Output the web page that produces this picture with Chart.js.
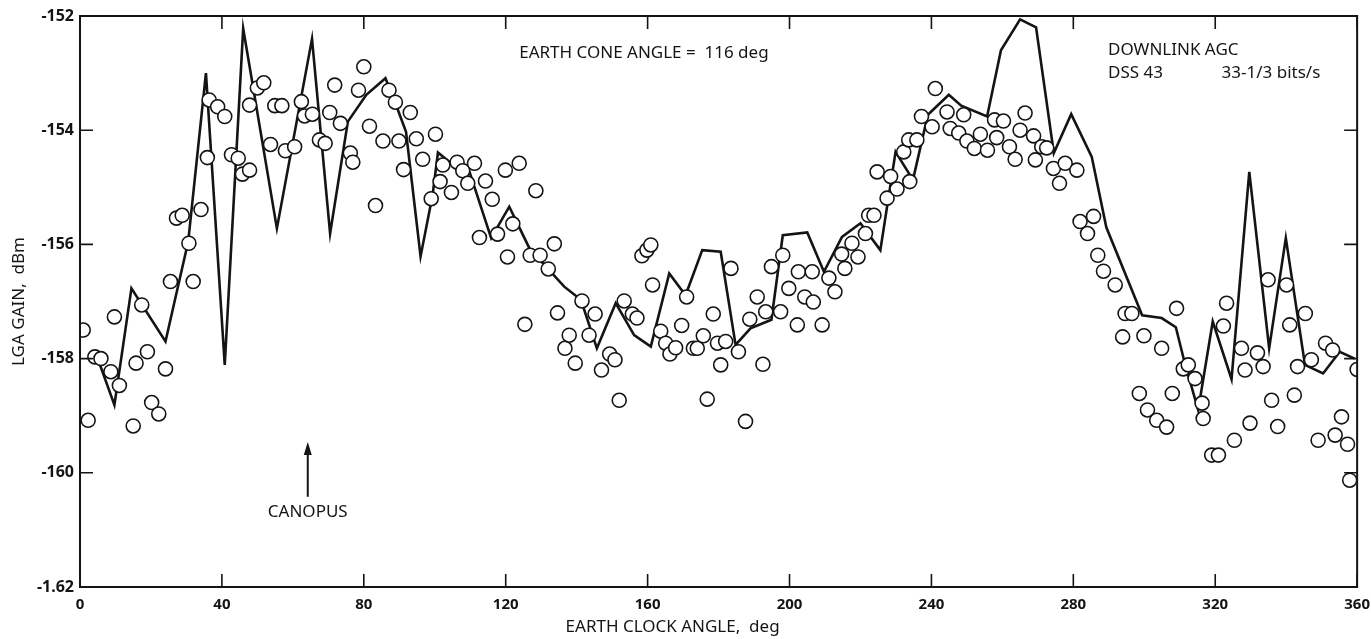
<!DOCTYPE html>
<html>
<head>
<meta charset="utf-8">
<script src="https://cdn.jsdelivr.net/npm/chart.js@4"></script>
<style>
  html, body { margin: 0; padding: 0; background: #ffffff; }
  #wrap { width: 1371px; height: 639px; position: relative; }
</style>
</head>
<body>
<div id="wrap"><canvas id="agc" width="1371" height="639"></canvas></div>
<script>
// Measured downlink AGC (circles): earth clock angle (deg) and LGA gain (dBm)
const agcAngle = [
  0.9, 2.3, 4.2, 5.9, 8.7, 9.7, 11.1, 15.0, 15.8, 17.4, 19.0, 20.2, 22.2, 24.1,
  25.5, 27.2, 28.8, 30.7, 31.9, 34.1, 35.9, 36.4, 38.8, 40.8, 42.7, 44.6, 45.8,
  47.8, 47.8, 50.0, 51.8, 53.7, 54.9, 56.9, 57.9, 60.5, 62.4, 63.3, 65.5, 67.5,
  69.1, 70.4, 71.8, 73.4, 76.2, 76.9, 78.5, 80.0, 81.6, 83.3, 85.4, 87.1, 88.9,
  89.9, 91.2, 93.1, 94.8, 96.6, 99.0, 100.2, 101.5, 102.3, 104.7, 106.3, 107.9,
  109.3, 111.2, 112.6, 114.3, 116.2, 117.7, 119.9, 120.5, 122.0, 123.8, 125.4,
  126.9, 128.5, 129.7, 132.0, 133.7, 134.6, 136.7, 137.9, 139.6, 141.5, 143.5,
  145.2, 147.0, 149.3, 150.8, 152.0, 153.4, 155.7, 157.0, 158.4, 159.8, 160.9,
  161.4, 163.7, 165.1, 166.3, 167.9, 169.6, 171.0, 172.9, 174.0, 175.7, 176.8,
  178.5, 179.7, 180.6, 182.0, 183.5, 185.6, 187.6, 188.8, 190.9, 192.5, 193.3,
  194.9, 197.5, 198.1, 199.8, 202.2, 202.5, 204.3, 206.4, 206.7, 209.2, 211.1,
  212.8, 214.7, 215.6, 217.6, 219.3, 221.4, 222.3, 223.8, 224.7, 227.5, 228.5,
  230.3, 232.2, 233.6, 233.9, 235.9, 237.2, 240.2, 241.1, 244.4, 245.3, 247.7,
  249.1, 250.0, 252.1, 253.8, 255.8, 257.8, 258.4, 260.3, 262.0, 263.6, 265.0,
  266.4, 268.8, 269.3, 271.1, 272.5, 274.4, 276.1, 277.7, 281.0, 281.9, 284.0,
  285.7, 286.9, 288.5, 291.8, 293.9, 294.6, 296.5, 298.6, 299.9, 300.9, 303.5,
  304.9, 306.3, 307.9, 309.1, 311.0, 312.4, 314.3, 316.3, 316.6, 319.0, 320.9,
  322.3, 323.2, 325.4, 327.4, 328.4, 329.8, 331.9, 333.5, 334.9, 335.9, 337.6,
  340.1, 341.0, 342.3, 343.2, 345.4, 347.1, 349.0, 351.1, 353.1, 353.8, 355.6,
  357.3, 357.9, 360.0
];
const agcGain = [
  -157.50, -159.08, -157.97, -158.00, -158.23, -157.27, -158.47, -159.18, -158.08, -157.06, -157.88, -158.77, -158.97, -158.18,
  -156.65, -155.54, -155.49, -155.98, -156.65, -155.39, -154.48, -153.47, -153.59, -153.76, -154.43, -154.49, -154.77,
  -154.70, -153.56, -153.26, -153.17, -154.25, -153.57, -153.57, -154.36, -154.29, -153.50, -153.75, -153.72, -154.17,
  -154.23, -153.69, -153.21, -153.88, -154.40, -154.56, -153.30, -152.89, -153.93, -155.32, -154.19, -153.30, -153.51,
  -154.19, -154.69, -153.69, -154.15, -154.51, -155.20, -154.07, -154.90, -154.61, -155.09, -154.56, -154.71,
  -154.93, -154.58, -155.88, -154.89, -155.21, -155.82, -154.70, -156.22, -155.64, -154.58, -157.40,
  -156.19, -155.06, -156.19, -156.43, -155.99, -157.20, -157.82, -157.59, -158.08, -156.99, -157.59,
  -157.22, -158.20, -157.92, -158.02, -158.73, -156.99, -157.22, -157.29, -156.20, -156.10, -156.01,
  -156.71, -157.52, -157.73, -157.92, -157.81, -157.42, -156.92, -157.82, -157.82, -157.60, -158.71,
  -157.22, -157.73, -158.11, -157.70, -156.42, -157.88, -159.10, -157.31, -156.92, -158.10, -157.18,
  -156.39, -157.18, -156.19, -156.77, -157.41, -156.48, -156.92, -156.48, -157.01, -157.41, -156.59,
  -156.83, -156.17, -156.42, -155.98, -156.22, -155.81, -155.49, -155.49, -154.73, -155.19, -154.81,
  -155.03, -154.38, -154.17, -154.90, -154.17, -153.76, -153.94, -153.27, -153.68, -153.97, -154.05,
  -153.73, -154.19, -154.32, -154.07, -154.35, -153.82, -154.13, -153.84, -154.29, -154.51, -154.00,
  -153.70, -154.10, -154.52, -154.29, -154.31, -154.67, -154.93, -154.58, -154.70, -155.60, -155.81,
  -155.51, -156.19, -156.47, -156.71, -157.62, -157.21, -157.21, -158.61, -157.60, -158.90, -159.08,
  -157.82, -159.20, -158.61, -157.12, -158.18, -158.11, -158.35, -158.78, -159.05, -159.69, -159.69,
  -157.43, -157.03, -159.43, -157.82, -158.20, -159.13, -157.90, -158.14, -156.62, -158.73, -159.19,
  -156.71, -157.41, -158.64, -158.14, -157.21, -158.02, -159.43, -157.73, -157.85, -159.34, -159.02,
  -159.50, -160.13, -158.19
];

// Predicted LGA gain (solid curve)
const modelAngle = [
  5.0, 9.7, 14.5, 24.1, 30.5, 35.5, 40.8, 46.0, 55.5, 65.4, 70.5, 75.5, 80.7, 86.1,
  89.1, 91.9, 96.0, 99.4, 100.9, 104.6, 109.8, 115.9, 121.0, 126.7, 131.8, 136.5,
  141.2, 145.7, 151.0, 156.2, 160.9, 166.1, 170.7, 175.4, 180.6, 184.8, 189.0,
  194.9, 198.1, 205.0, 209.7, 214.8, 220.0, 225.6, 229.9, 234.8, 239.0, 244.9,
  248.4, 255.7, 259.6, 265.0, 269.5, 274.5, 279.4, 285.2, 289.3, 299.4, 304.9,
  308.9, 311.3, 315.2, 319.3, 324.6, 329.6, 335.2, 339.9, 345.3, 350.4, 355.1, 359.3
];
const modelGain = [
  -158.00, -158.81, -156.77, -157.70, -155.95, -153.00, -158.11, -152.22, -155.72, -152.40, -155.81, -153.85, -153.38, -153.09,
  -153.56, -154.03, -156.21, -155.13, -154.39, -154.58, -154.73, -155.89, -155.34, -156.07, -156.42, -156.74,
  -156.97, -157.82, -157.03, -157.59, -157.79, -156.51, -156.89, -156.10, -156.13, -157.76, -157.47,
  -157.32, -155.84, -155.79, -156.48, -155.87, -155.63, -156.10, -154.38, -154.87, -153.73, -153.38,
  -153.57, -153.76, -152.60, -152.06, -152.20, -154.40, -153.72, -154.47, -155.70, -157.24, -157.29,
  -157.45, -158.05, -158.90, -157.35, -158.36, -154.73, -157.82, -155.89, -158.11, -158.26, -157.88, -158.00
];

// Axis ticks and their printed labels
const xTickValues = [0, 40, 80, 120, 160, 200, 240, 280, 320, 360];
const yTickValues = [-162, -160, -158, -156, -154, -152];
const yTickLabels = ['-1.62', '-160', '-158', '-156', '-154', '-152'];

const INK = '#141414';
const FONT = '"Noto Sans", "Open Sans", "DejaVu Sans", sans-serif';

// Frame, inward tick marks, captions and the Canopus pointer
const paperDecor = {
  id: 'paperDecor',
  afterDatasetsDraw(chart) {
    const { ctx, chartArea: a, scales: { x, y } } = chart;
    ctx.save();
    ctx.strokeStyle = INK;
    ctx.lineCap = 'butt';

    // ticks pointing into the plot on all four sides
    ctx.lineWidth = 1.6;
    const tl = 13;
    ctx.beginPath();
    xTickValues.forEach(v => {
      const px = x.getPixelForValue(v);
      ctx.moveTo(px, a.bottom); ctx.lineTo(px, a.bottom - tl);
      ctx.moveTo(px, a.top); ctx.lineTo(px, a.top + tl);
    });
    yTickValues.forEach(v => {
      const py = y.getPixelForValue(v);
      ctx.moveTo(a.left, py); ctx.lineTo(a.left + tl, py);
      ctx.moveTo(a.right, py); ctx.lineTo(a.right - tl, py);
    });
    ctx.stroke();

    // plot frame
    ctx.lineWidth = 2;
    ctx.strokeRect(a.left, a.top, a.right - a.left, a.bottom - a.top);

    // captions
    ctx.fillStyle = INK;
    ctx.textBaseline = 'middle';
    ctx.font = '17px ' + FONT;
    ctx.textAlign = 'left';
    ctx.fillText('EARTH CONE ANGLE =  116 deg', x.getPixelForValue(123.8), y.getPixelForValue(-152.65));
    ctx.fillText('DOWNLINK AGC', x.getPixelForValue(289.8), y.getPixelForValue(-152.6));
    ctx.fillText('DSS 43', x.getPixelForValue(289.8), y.getPixelForValue(-153.0));
    ctx.fillText('33-1/3 bits/s', x.getPixelForValue(321.8), y.getPixelForValue(-153.0));

    // Canopus pointer
    const ax = x.getPixelForValue(64.2);
    const yTail = y.getPixelForValue(-160.42);
    const yTip = y.getPixelForValue(-159.46);
    ctx.lineWidth = 2;
    ctx.beginPath();
    ctx.moveTo(ax, yTail); ctx.lineTo(ax, yTip + 10);
    ctx.stroke();
    ctx.beginPath();
    ctx.moveTo(ax, yTip);
    ctx.lineTo(ax - 4, yTip + 13);
    ctx.lineTo(ax + 4, yTip + 13);
    ctx.closePath();
    ctx.fill();
    ctx.textAlign = 'center';
    ctx.fillText('CANOPUS', ax, y.getPixelForValue(-160.69));

    // axis titles
    ctx.font = '17px ' + FONT;
    ctx.fillText('EARTH CLOCK ANGLE,  deg', a.left + (a.right - a.left) * 0.464, 627);
    ctx.translate(19, (a.top + a.bottom) / 2);
    ctx.rotate(-Math.PI / 2);
    ctx.fillText('LGA GAIN,  dBm', 0, 0);
    ctx.restore();
  }
};

new Chart(document.getElementById('agc'), {
  type: 'scatter',
  data: {
    datasets: [
      {
        label: 'Downlink AGC',
        data: agcAngle.map((a, i) => ({ x: a, y: agcGain[i] })),
        pointRadius: 7,
        pointHoverRadius: 7,
        pointBackgroundColor: '#ffffff',
        pointBorderColor: INK,
        pointBorderWidth: 1.6,
        showLine: false
      },
      {
        label: 'Predicted gain',
        data: modelAngle.map((a, i) => ({ x: a, y: modelGain[i] })),
        showLine: true,
        borderColor: INK,
        borderWidth: 2.6,
        pointRadius: 0,
        tension: 0,
        fill: false
      }
    ]
  },
  options: {
    responsive: false,
    animation: false,
    devicePixelRatio: 1,
    layout: { padding: { top: 16, right: 12, left: 0, bottom: 0 } },
    plugins: { legend: { display: false }, tooltip: { enabled: false } },
    scales: {
      x: {
        type: 'linear',
        min: 0, max: 360,
        afterFit(scale) { scale.height = 52; },
        afterBuildTicks(scale) { scale.ticks = xTickValues.map(v => ({ value: v })); },
        grid: { display: false },
        border: { display: false },
        ticks: {
          padding: 1,
          color: INK,
          font: { family: FONT, size: 15, weight: 'bold' },
          callback: v => String(v)
        }
      },
      y: {
        type: 'linear',
        min: -162, max: -152,
        afterFit(scale) { scale.width = 80; },
        afterBuildTicks(scale) { scale.ticks = yTickValues.map(v => ({ value: v })); },
        grid: { display: false },
        border: { display: false },
        ticks: {
          padding: -2,
          color: INK,
          font: { family: FONT, size: 16, weight: 'bold' },
          callback: v => yTickLabels[yTickValues.indexOf(v)]
        }
      }
    }
  },
  plugins: [paperDecor]
});
</script>
</body>
</html>
